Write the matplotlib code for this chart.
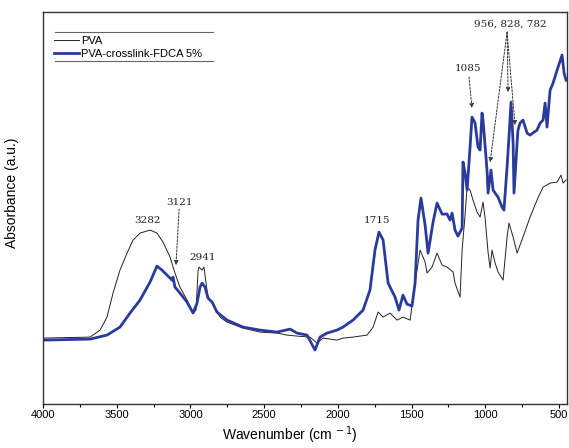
import matplotlib
matplotlib.use("Agg")
import matplotlib.pyplot as plt
from matplotlib.ticker import MultipleLocator
from matplotlib.lines import Line2D

# PVA (thin black)
pva_wn = [4000, 3681, 3613, 3566, 3525, 3478, 3430, 3389, 3342, 3274, 3227, 3186,
          3138, 3105, 3071, 3023, 2982, 2962, 2948, 2942, 2921, 2908, 2894, 2881,
          2847, 2799, 2752, 2643, 2528, 2413, 2345, 2277, 2189, 2141, 2100, 2006,
          1965, 1897, 1802, 1761, 1727, 1693, 1646, 1598, 1558, 1510, 1476, 1442,
          1408, 1395, 1361, 1327, 1293, 1259, 1218, 1205, 1171, 1157, 1137, 1123,
          1103, 1083, 1056, 1035, 1015, 1001, 981, 967, 954, 933, 913, 879, 852,
          839, 811, 784, 744, 696, 649, 608, 560, 513, 486, 472, 452]
pva_abs = [0.66, 0.67, 0.74, 0.87, 1.11, 1.34, 1.51, 1.64, 1.71, 1.74, 1.71, 1.62,
           1.47, 1.31, 1.17, 1.04, 0.91, 0.94, 1.34, 1.37, 1.34, 1.37, 1.21, 1.07,
           1.01, 0.87, 0.82, 0.76, 0.72, 0.71, 0.69, 0.68, 0.67, 0.61, 0.66, 0.64,
           0.66, 0.67, 0.69, 0.77, 0.92, 0.87, 0.91, 0.84, 0.87, 0.84, 1.21, 1.54,
           1.42, 1.31, 1.37, 1.51, 1.39, 1.37, 1.32, 1.21, 1.07, 1.54, 1.89, 2.17,
           2.14, 2.04, 1.92, 1.87, 2.02, 1.86, 1.52, 1.36, 1.54, 1.41, 1.32, 1.24,
           1.67, 1.81, 1.67, 1.51, 1.67, 1.87, 2.04, 2.17, 2.21, 2.22, 2.29, 2.21,
           2.24]

# PVA-crosslink-FDCA 5% (thick blue)
fdca_wn = [4000, 3681, 3566, 3478, 3410, 3342, 3274, 3227, 3193, 3159, 3125, 3118,
           3105, 3071, 3023, 2982, 2955, 2935, 2921, 2901, 2881, 2853, 2820, 2752,
           2643, 2528, 2413, 2324, 2277, 2209, 2155, 2121, 2073, 2006, 1965, 1897,
           1829, 1782, 1748, 1721, 1693, 1659, 1612, 1585, 1558, 1531, 1497, 1476,
           1456, 1436, 1408, 1388, 1354, 1327, 1293, 1259, 1239, 1225, 1205, 1185,
           1157, 1151, 1137, 1123, 1103, 1090, 1069, 1049, 1035, 1022, 1015, 988,
           981, 961, 947, 933, 913, 886, 873, 852, 839, 825, 811, 805, 784, 778,
           764, 744, 716, 696, 649, 628, 608, 594, 581, 560, 540, 506, 479, 465,
           452]
fdca_abs = [0.64, 0.65, 0.69, 0.77, 0.91, 1.04, 1.22, 1.38, 1.34, 1.29, 1.24, 1.27,
            1.17, 1.11, 1.02, 0.91, 1.01, 1.17, 1.21, 1.17, 1.06, 1.02, 0.92, 0.84,
            0.77, 0.74, 0.72, 0.75, 0.71, 0.69, 0.54, 0.67, 0.71, 0.74, 0.77, 0.84,
            0.94, 1.14, 1.54, 1.72, 1.64, 1.21, 1.07, 0.94, 1.09, 1.00, 0.98, 1.21,
            1.84, 2.06, 1.79, 1.51, 1.82, 2.01, 1.90, 1.90, 1.84, 1.91, 1.74, 1.68,
            1.76, 2.42, 2.31, 2.14, 2.57, 2.87, 2.81, 2.57, 2.54, 2.91, 2.84, 2.34,
            2.11, 2.34, 2.14, 2.11, 2.07, 1.97, 1.94, 2.37, 2.67, 3.02, 2.61, 2.11,
            2.61, 2.74, 2.81, 2.84, 2.71, 2.69, 2.74, 2.81, 2.84, 3.01, 2.77, 3.14,
            3.21, 3.37, 3.49, 3.31, 3.24]

plt.rcParams['font.family'] = ['Liberation Sans', 'DejaVu Sans']

fig = plt.figure(figsize=(5.69, 4.48), dpi=100)
ax = fig.add_axes([0.0756, 0.098, 0.921, 0.875])

ax.plot(pva_wn, pva_abs, color='#222222', lw=0.7, label='PVA')
ax.plot(fdca_wn, fdca_abs, color='#2a3b9c', lw=2.0, label='PVA-crosslink-FDCA 5%')

ax.set_xlim(4000, 445)
ax.set_ylim(0, 3.92)
ax.xaxis.set_major_locator(MultipleLocator(500))
ax.xaxis.set_minor_locator(MultipleLocator(250))
ax.set_yticks([])
ax.tick_params(axis='x', which='major', direction='out', length=3, width=0.8,
               labelsize=8, pad=1.5)
ax.tick_params(axis='x', which='minor', direction='out', length=2, width=0.8)
for s in ax.spines.values():
    s.set_color('#333333')
    s.set_linewidth(1.0)

ax.set_xlabel('Wavenumber (cm$^{\\,-1}$)', fontsize=10)
ax.xaxis.set_label_coords(0.47, -0.053)
ax.set_ylabel('Absorbance (a.u.)', fontsize=10)
ax.yaxis.set_label_coords(-0.045, 0.54)

# legend with rules above and below
leg = ax.legend(loc='upper left', bbox_to_anchor=(0.016, 0.945), frameon=False,
                fontsize=8, handlelength=2.3, handletextpad=0.2,
                labelspacing=0.25, borderaxespad=0, borderpad=0.2)
for y in (0.949, 0.875):
    ax.add_line(Line2D([0.023, 0.324], [y, y], transform=ax.transAxes,
                       color='#666666', lw=0.8))

# peak labels
fs = 7.5
tc = '#222222'
ann = dict(arrowstyle='-|>', ls=(0, (2, 1.5)), color='#333333', lw=0.7,
           mutation_scale=6, shrinkA=0, shrinkB=0)
ax.text(3288, 1.84, '3282', family='DejaVu Serif', fontsize=fs, color=tc,
        ha='center', va='center')
ax.text(2915, 1.47, '2941', family='DejaVu Serif', fontsize=fs, color=tc,
        ha='center', va='center')
ax.text(1734, 1.84, '1715', family='DejaVu Serif', fontsize=fs, color=tc,
        ha='center', va='center')
ax.text(3071, 2.02, '3121', family='DejaVu Serif', fontsize=fs, color=tc,
        ha='center', va='center')
ax.annotate('', xy=(3098, 1.39), xytext=(3077, 1.95), arrowprops=ann)
ax.text(1117, 3.36, '1085', family='DejaVu Serif', fontsize=fs, color=tc,
        ha='center', va='center')
ax.annotate('', xy=(1090, 2.96), xytext=(1110, 3.27), arrowprops=ann)
ax.text(832, 3.80, '956, 828, 782', family='DejaVu Serif', fontsize=fs, color=tc,
        ha='center', va='center')
for xy in [(967, 2.42), (845, 3.12), (798, 2.79)]:
    ax.annotate('', xy=xy, xytext=(852, 3.72), arrowprops=ann)

fig.savefig('out.png', dpi=100)
